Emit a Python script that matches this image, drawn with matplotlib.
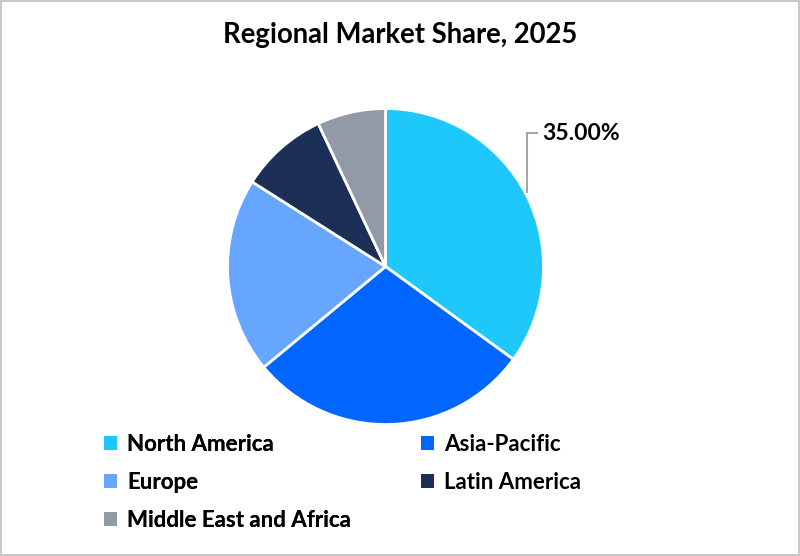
import matplotlib.pyplot as plt
from matplotlib.patches import Patch

plt.rcParams['font.family'] = ['Lato', 'DejaVu Sans']
plt.rcParams['font.weight'] = 'bold'

# regional shares in percent
regions = ["North America", "Asia-Pacific", "Europe", "Latin America", "Middle East and Africa"]
shares = [35, 29, 20, 9, 7]
colors = ["#1ec8fb", "#0066ff", "#66a6ff", "#1b2f57", "#9399a6"]

fig = plt.figure(figsize=(8, 5.56), dpi=100)
fig.patch.set_edgecolor("#c8c8c8")
fig.patch.set_linewidth(1.5)

ax = fig.add_axes([0.2844, 0.2365, 0.395, 0.5683])
wedges, _ = ax.pie(shares, colors=colors, startangle=90, counterclock=False,
                   radius=1, wedgeprops=dict(edgecolor="white", linewidth=2))
ax.set_xlim(-1, 1)
ax.set_ylim(-1, 1)
ax.set_aspect("equal")
ax.axis("off")

# leader line and label for the largest slice
ax.plot([0.8956, 0.8956, 0.959], [0.4715, 0.845, 0.845], color="#a6a6a6",
        linewidth=1.5, clip_on=False)
ax.text(0.99, 0.845, f"{shares[0]:.2f}%", fontsize=16.5, fontweight="bold",
        va="center", ha="left", clip_on=False)

fig.suptitle("Regional Market Share, 2025", fontsize=19.8, fontweight="bold", y=0.96)

handles = [Patch(facecolor=c, edgecolor="none") for c in colors]
left = [0, 2, 4]
right = [1, 3]
kw = dict(frameon=False, fontsize=16, handlelength=0.6, handleheight=0.6,
          handletextpad=0.45, labelspacing=0.77, borderpad=0, borderaxespad=0,
          loc="upper left")
top = 1 - 434 / 556
leg1 = fig.legend([handles[i] for i in left], [regions[i] for i in left],
                  bbox_to_anchor=(104 / 800, top), **kw)
fig.add_artist(leg1)
fig.legend([handles[i] for i in right], [regions[i] for i in right],
           bbox_to_anchor=(421 / 800, top), **kw)

fig.savefig("out.png", dpi=100, edgecolor=fig.get_edgecolor())
